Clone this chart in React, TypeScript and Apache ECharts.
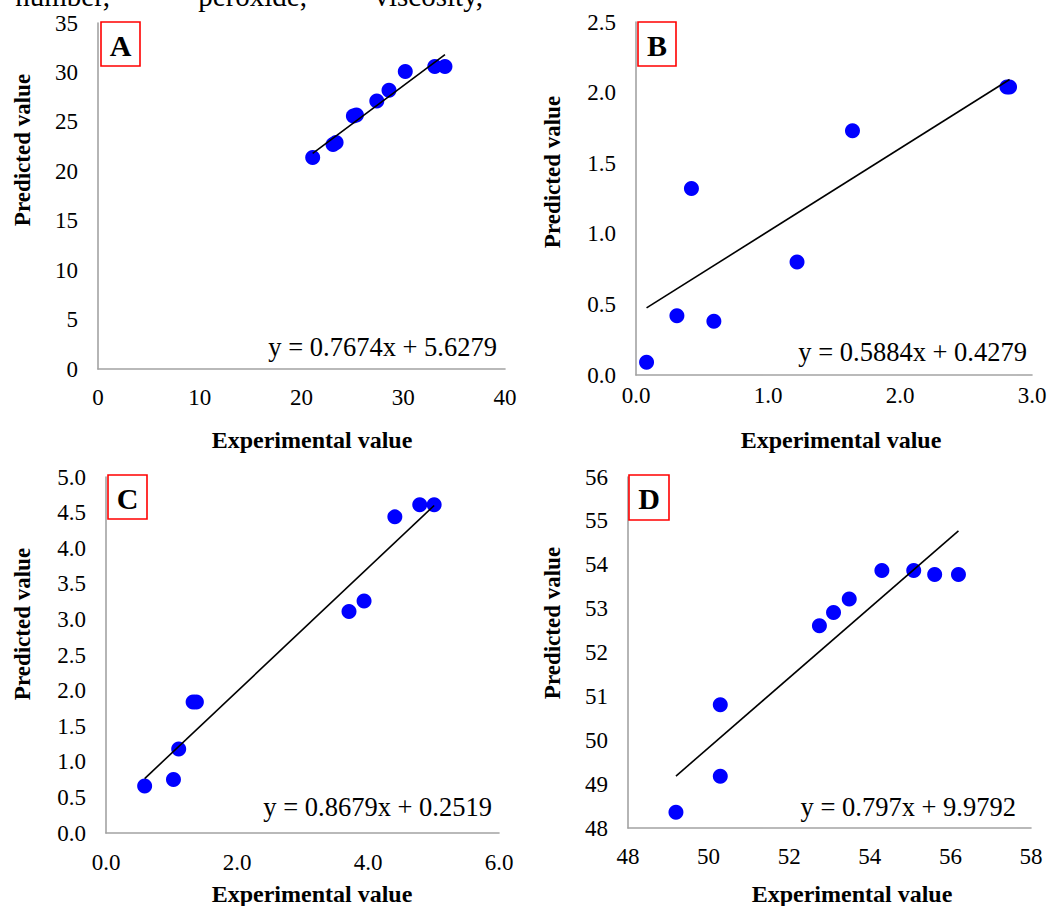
import React, { useEffect, useRef } from "react";
import * as echarts from "echarts";

// ---- data ----
const aExperimental = [21.1, 23.1, 23.4, 25.1, 25.4, 27.4, 28.6, 30.2, 33.1, 34.1];
const aPredicted = [21.4, 22.7, 22.9, 25.6, 25.7, 27.1, 28.2, 30.1, 30.6, 30.6];
const bExperimental = [0.08, 0.31, 0.42, 0.59, 1.22, 1.64, 2.81, 2.83];
const bPredicted = [0.09, 0.42, 1.32, 0.38, 0.8, 1.73, 2.04, 2.04];
const cExperimental = [0.59, 1.03, 1.11, 1.33, 1.38, 3.71, 3.94, 4.41, 4.79, 5.01];
const cPredicted = [0.66, 0.75, 1.18, 1.84, 1.84, 3.11, 3.26, 4.44, 4.61, 4.61];
const dExperimental = [49.19, 50.29, 50.29, 52.75, 53.1, 53.49, 54.3, 55.09, 55.61, 56.2];
const dPredicted = [48.36, 50.81, 49.18, 52.61, 52.91, 53.22, 53.87, 53.87, 53.78, 53.78];

const panelLetters = ["A", "B", "C", "D"];
const slopes = [0.7674, 0.5884, 0.8679, 0.797];
const intercepts = [5.6279, 0.4279, 0.2519, 9.9792];
const equations = [
  "y = 0.7674x + 5.6279",
  "y = 0.5884x + 0.4279",
  "y = 0.8679x + 0.2519",
  "y = 0.797x + 9.9792",
];
const xAxisRanges = [
  [0, 40, 10],
  [0, 3, 1],
  [0, 6, 2],
  [48, 58, 2],
];
const yAxisRanges = [
  [0, 35, 5],
  [0, 2.5, 0.5],
  [0, 5, 0.5],
  [48, 56, 1],
];
const xDecimals = [0, 1, 1, 0];
const yDecimals = [0, 1, 1, 0];
const xAxisTitle = "Experimental value";
const yAxisTitle = "Predicted value";
const topTexts = ["number,", "peroxide,", "viscosity,"];

const SERIF = '"Liberation Serif", "Times New Roman", serif';

export default function App() {
  const ref = useRef<HTMLDivElement>(null);

  useEffect(() => {
    if (!ref.current) return;
    const chart = echarts.init(ref.current, undefined, { renderer: "svg" });

    const expAll = [aExperimental, bExperimental, cExperimental, dExperimental];
    const predAll = [aPredicted, bPredicted, cPredicted, dPredicted];

    const grids = [
      { left: 98, top: 23, width: 407, height: 346 },
      { left: 636, top: 22, width: 396, height: 353 },
      { left: 106, top: 477, width: 393, height: 356 },
      { left: 628, top: 477, width: 403, height: 351 },
    ];
    const xLabelMargins = [17, 9, 18, 17];

    const axisLine = { show: true, lineStyle: { color: "#a3a3a3", width: 1.6 } };

    const xAxes = grids.map((_, i) => ({
      type: "value",
      gridIndex: i,
      min: xAxisRanges[i][0],
      max: xAxisRanges[i][1],
      interval: xAxisRanges[i][2],
      axisLine,
      axisTick: { show: false },
      splitLine: { show: false },
      axisLabel: {
        color: "#000",
        fontFamily: SERIF,
        fontSize: 23,
        margin: xLabelMargins[i],
        formatter: (v: number) => v.toFixed(xDecimals[i]),
      },
    }));
    const yAxes = grids.map((_, i) => ({
      type: "value",
      gridIndex: i,
      min: yAxisRanges[i][0],
      max: yAxisRanges[i][1],
      interval: yAxisRanges[i][2],
      axisLine,
      axisTick: { show: false },
      splitLine: { show: false },
      axisLabel: {
        color: "#000",
        fontFamily: SERIF,
        fontSize: 23,
        margin: 20,
        formatter: (v: number) => v.toFixed(yDecimals[i]),
      },
    }));

    const series: any[] = [];
    for (let i = 0; i < 4; i++) {
      const xs = expAll[i];
      const ys = predAll[i];
      series.push({
        type: "scatter",
        xAxisIndex: i,
        yAxisIndex: i,
        symbolSize: 15,
        itemStyle: { color: "#0000ff", opacity: 1 },
        data: xs.map((x, k) => [x, ys[k]]),
        z: 2,
      });
      const x0 = Math.min(...xs);
      const x1 = Math.max(...xs);
      series.push({
        type: "line",
        xAxisIndex: i,
        yAxisIndex: i,
        showSymbol: false,
        symbol: "none",
        lineStyle: { color: "#000", width: 1.6 },
        data: [
          [x0, slopes[i] * x0 + intercepts[i]],
          [x1, slopes[i] * x1 + intercepts[i]],
        ],
        z: 3,
      });
    }

    const eqPos = [
      [497, 347],
      [1027, 352],
      [492, 807],
      [1016, 807],
    ];
    const xTitlePos = [
      [312, 440],
      [841, 440],
      [312, 894],
      [852, 894],
    ];
    const yTitlePos = [
      [22, 150],
      [552, 172],
      [22, 624],
      [552, 623],
    ];
    const boxes = [
      [101, 22, 39, 44],
      [638, 22, 38, 44],
      [108, 475, 39, 44],
      [629, 475, 40, 45],
    ];

    const graphic: any[] = [];
    for (let i = 0; i < 4; i++) {
      graphic.push({
        type: "text",
        x: eqPos[i][0],
        y: eqPos[i][1],
        z: 10,
        style: {
          text: equations[i],
          fill: "#000",
          fontFamily: SERIF,
          fontSize: 26.5,
          textAlign: "right",
          textVerticalAlign: "middle",
        },
      });
      graphic.push({
        type: "text",
        x: xTitlePos[i][0],
        y: xTitlePos[i][1],
        style: {
          text: xAxisTitle,
          fill: "#000",
          fontFamily: SERIF,
          fontWeight: "bold",
          fontSize: 24,
          textAlign: "center",
          textVerticalAlign: "middle",
        },
      });
      graphic.push({
        type: "text",
        x: yTitlePos[i][0],
        y: yTitlePos[i][1],
        rotation: Math.PI / 2,
        style: {
          text: yAxisTitle,
          fill: "#000",
          fontFamily: SERIF,
          fontWeight: "bold",
          fontSize: 23,
          textAlign: "center",
          textVerticalAlign: "middle",
        },
      });
      const [bx, by, bw, bh] = boxes[i];
      graphic.push({
        type: "rect",
        z: 20,
        shape: { x: bx, y: by, width: bw, height: bh },
        style: { fill: "#fff", stroke: "#ff0000", lineWidth: 1.6 },
      });
      graphic.push({
        type: "text",
        z: 21,
        x: bx + bw / 2,
        y: by + bh / 2 + 1,
        style: {
          text: panelLetters[i],
          fill: "#000",
          fontFamily: SERIF,
          fontWeight: "bold",
          fontSize: 30,
          textAlign: "center",
          textVerticalAlign: "middle",
        },
      });
    }
    const topX = [110, 307, 483];
    topTexts.forEach((t, k) => {
      graphic.push({
        type: "text",
        x: topX[k],
        y: -4,
        style: {
          text: t,
          fill: "#000",
          fontFamily: SERIF,
          fontSize: 29,
          textAlign: "right",
          textVerticalAlign: "middle",
        },
      });
    });

    chart.setOption({
      animation: false,
      backgroundColor: "#fff",
      grid: grids,
      xAxis: xAxes,
      yAxis: yAxes,
      series,
      graphic,
    });

    return () => chart.dispose();
  }, []);

  return (
    <div
      ref={ref}
      style={{ position: "fixed", left: 0, top: 0, width: 1051, height: 906, background: "#fff" }}
    />
  );
}
